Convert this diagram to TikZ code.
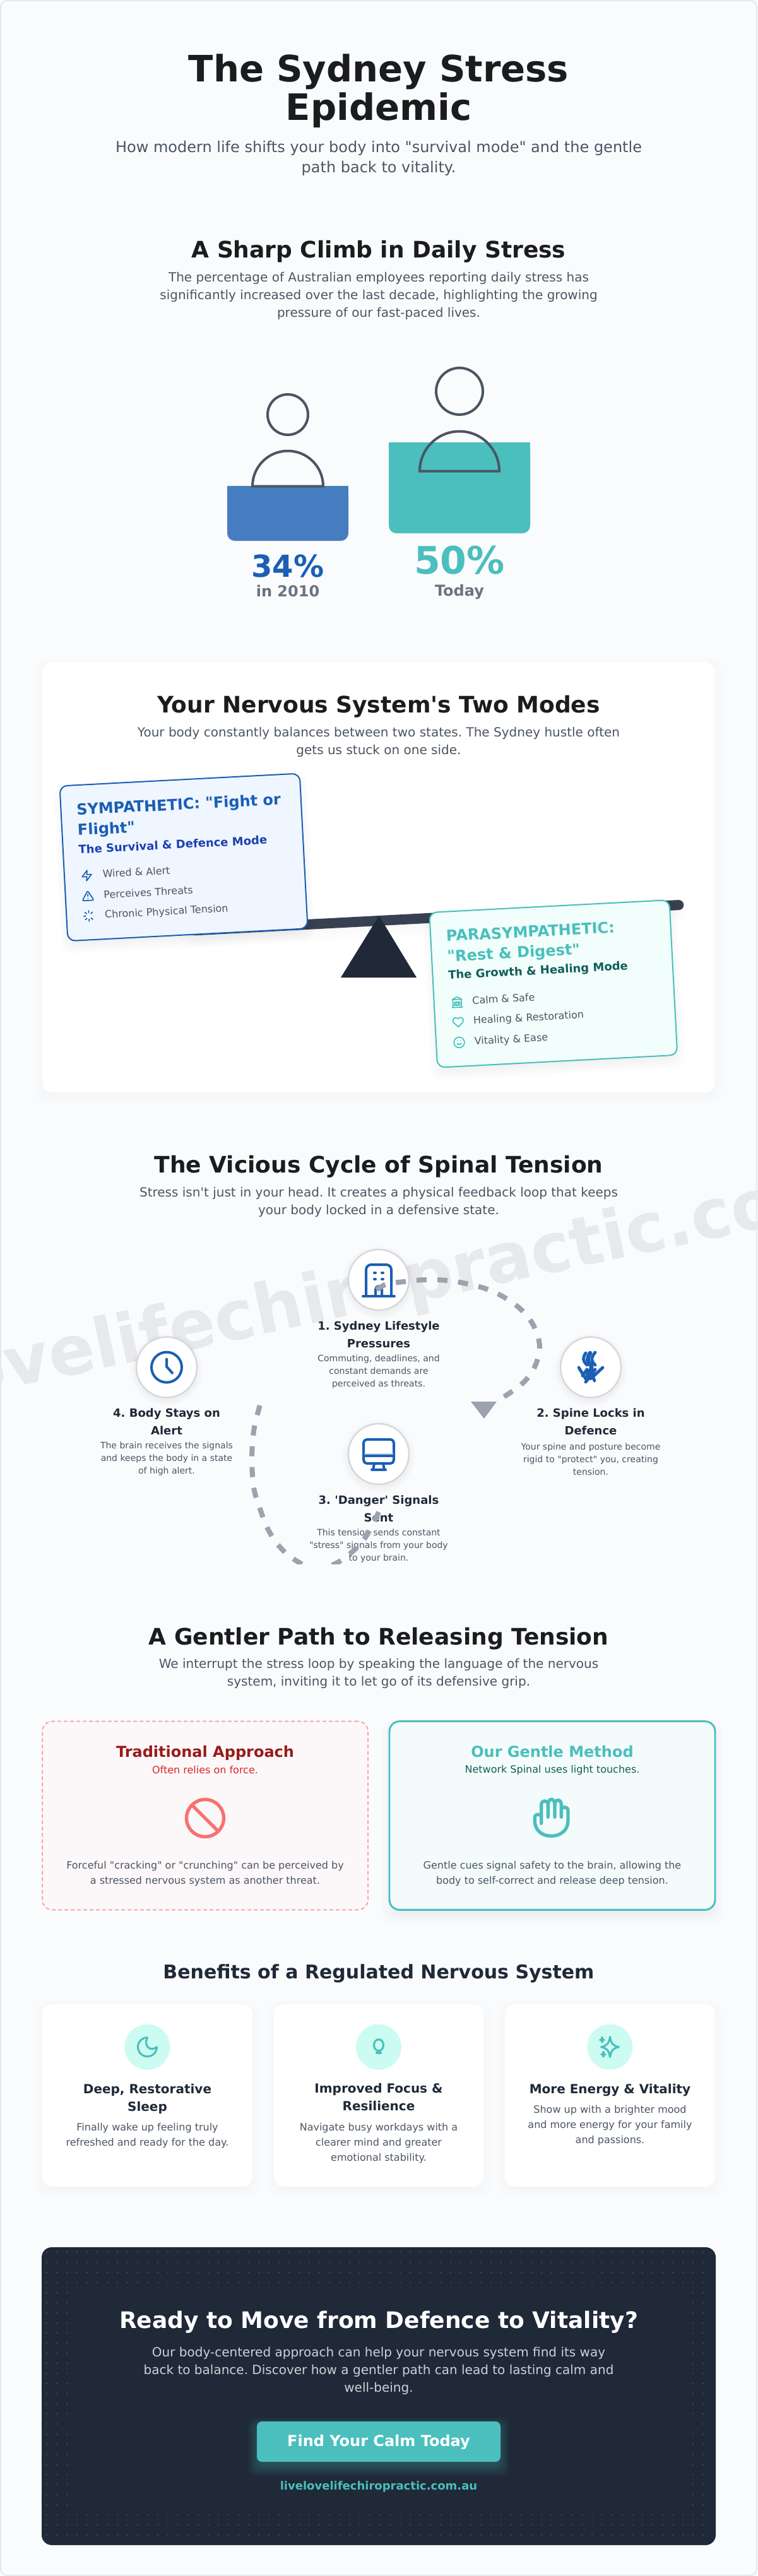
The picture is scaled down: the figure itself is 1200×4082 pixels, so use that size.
\documentclass[tikz,border=0pt]{standalone}
\usepackage{fontspec}
\newfontfamily\pagefamily{DejaVu Sans}
\newcommand{\setsize}[2]{\pagefamily\frenchspacing\fontsize{#1}{#2}\selectfont}
\usetikzlibrary{calc}
\definecolor{pagecolor}{HTML}{FAFBFD}
\definecolor{edgecolor}{HTML}{E5E7EB}
\definecolor{inkcolor}{HTML}{1A1C1E}
\definecolor{slatecolor}{HTML}{1F2937}
\definecolor{beamcolor}{HTML}{374151}
\definecolor{bodycolor}{HTML}{4B5563}
\definecolor{mutedcolor}{HTML}{6B7280}
\definecolor{bluecolor}{HTML}{1A5FB4}
\definecolor{barcolor}{HTML}{467DC0}
\definecolor{tealcolor}{HTML}{4ABFBD}
\definecolor{deepblue}{HTML}{1E40AF}
\definecolor{deepteal}{HTML}{115E59}
\definecolor{loopcolor}{HTML}{9CA3AF}
\definecolor{mintcolor}{HTML}{CCFBF1}
\definecolor{paleblue}{HTML}{EFF6FF}
\definecolor{palemint}{HTML}{F3FCFB}
\definecolor{palered}{HTML}{FCF8F9}
\definecolor{pinkcolor}{HTML}{FCA5A5}
\definecolor{redcolor}{HTML}{F87171}
\definecolor{darkred}{HTML}{991B1B}
\definecolor{midred}{HTML}{DC2626}
\tikzstyle{heading} = [
    align=center,
    inner sep=0pt,
    text=inkcolor,
    font=\setsize{27}{33}\bfseries
]
\tikzstyle{bodytext} = [
    align=center,
    inner sep=0pt,
    text=bodycolor,
    font=\setsize{15}{21}
]
\tikzstyle{smalltext} = [
    align=center,
    inner sep=0pt,
    text=bodycolor,
    font=\setsize{12}{18}
]
\tikzstyle{figure} = [
    draw=bodycolor,
    line width=3pt
]
\tikzstyle{percent} = [
    align=center,
    inner sep=0pt,
    font=\setsize{36}{40}\bfseries
]
\tikzstyle{yearlabel} = [
    inner sep=0pt,
    text=mutedcolor,
    font=\setsize{18}{22}\bfseries
]
\tikzstyle{modecard} = [
    rectangle,
    rounded corners=9pt,
    minimum width=285.5pt,
    minimum height=184.5pt,
    line width=1.5pt,
    inner sep=0pt
]
\tikzstyle{modetitle} = [
    anchor=north west,
    align=left,
    inner sep=0pt,
    font=\setsize{18}{24}\bfseries
]
\tikzstyle{modesub} = [
    anchor=west,
    inner sep=0pt,
    font=\setsize{13.5}{16}\bfseries
]
\tikzstyle{modeitem} = [
    anchor=west,
    inner sep=0pt,
    text=bodycolor,
    font=\setsize{12}{14}
]
\tikzstyle{listicon} = [
    x=.625pt,
    y=-.625pt,
    shift={(-12,-12)},
    line width=1.25pt,
    line cap=round,
    line join=round
]
\tikzstyle{stepcircle} = [
    circle,
    minimum size=72pt,
    fill=white,
    draw=edgecolor!93!black,
    line width=1.8pt,
    inner sep=0pt
]
\tikzstyle{steptitle} = [
    align=center,
    inner sep=0pt,
    text=slatecolor,
    font=\setsize{13.5}{21}\bfseries
]
\tikzstyle{stepdesc} = [
    align=center,
    inner sep=0pt,
    text=bodycolor,
    font=\setsize{10.5}{15}
]
\tikzstyle{stepicon} = [
    draw=bluecolor,
    line width=3pt,
    line cap=round,
    line join=round
]
\tikzstyle{loopdash} = [
    draw=loopcolor,
    line width=6pt,
    dash pattern=on 12pt off 12.75pt
]
\tikzstyle{methodcard} = [
    rectangle,
    rounded corners=12pt,
    minimum width=387pt,
    minimum height=224pt,
    inner sep=0pt
]
\tikzstyle{methodtitle} = [
    anchor=base,
    inner sep=0pt,
    font=\setsize{18}{22}\bfseries
]
\tikzstyle{methodsub} = [
    inner sep=0pt,
    font=\setsize{12}{16}
]
\tikzstyle{benefitcard} = [
    rectangle,
    rounded corners=12pt,
    minimum width=249.75pt,
    minimum height=216.75pt,
    fill=white,
    inner sep=0pt
]
\tikzstyle{benefitbubble} = [
    circle,
    minimum size=54pt,
    fill=mintcolor,
    inner sep=0pt
]
\tikzstyle{benefittitle} = [
    align=center,
    inner sep=0pt,
    text=slatecolor,
    font=\setsize{15}{21}\bfseries
]
\tikzstyle{benefiticon} = [
    draw=tealcolor,
    line width=2.3pt,
    line cap=round,
    line join=round
]
% soft shadow as a stack of faint rectangles
\newcommand{\softshadow}[6]{%
  \foreach \g in {-6,-3,...,12}{
    \fill[black,opacity=#6,rounded corners=12pt]
      ({#1-\g},{#2-\g+#5}) rectangle ({#3+\g},{#4+\g+#5});
  }%
}
\begin{document}
\begin{tikzpicture}[x=.75pt,y=-.75pt]
\useasboundingbox (0,0) rectangle (1200,4082);

% Page
\fill[pagecolor] (0,0) rectangle (1200,4082);
\draw[edgecolor,line width=1.5pt,rounded corners=8pt] (1,1) rectangle (1199,4081);

% Title
\node[heading, font=\setsize{43.2}{45.5}\bfseries] (title) at (600,144) {The Sydney Stress\\Epidemic};
\node[bodytext, font=\setsize{18}{24}] (subtitle) at (600,251) {How modern life shifts your body into "survival mode" and the gentle\\path back to vitality.};

% Section 1: Sharp climb
\node[heading] (climbhead) at (600,399) {A Sharp Climb in Daily Stress};
\node[bodytext] (climbtext) at (600,469) {The percentage of Australian employees reporting daily stress has\\significantly increased over the last decade, highlighting the growing\\pressure of our fast-paced lives.};

% Bar 2010
\fill[barcolor,rounded corners=9pt] (360,770) rectangle (552,857);
\fill[barcolor] (360,770) rectangle (552,800);
\draw[figure] (456,657) circle (32);
\draw[figure] (400,770.5) arc[start angle=180,end angle=360,radius=56] -- cycle;
\node[percent, text=bluecolor] (pctold) at (456,897) {34\%};
\node[yearlabel] (yearold) at (456,937) {in 2010};

% Bar today
\fill[tealcolor,rounded corners=9pt] (616,701) rectangle (840,845);
\fill[tealcolor] (616,701) rectangle (840,740);
\draw[figure] (728,620) circle (37);
\draw[figure] (665,746.5) arc[start angle=180,end angle=360,radius=63] -- cycle;
\node[percent, text=tealcolor, font=\setsize{45}{50}\bfseries] (pctnow) at (728,888) {50\%};
\node[yearlabel] (yearnow) at (728,938) {Today};

% Section 2: Two modes
\softshadow{67}{1049}{1133}{1731}{6}{.005}
\node[rectangle, rounded corners=12pt, fill=white, minimum width=799.5pt, minimum height=511.5pt, inner sep=0pt] (modespanel) at (600,1390) {};
\node[heading] (modeshead) at (600,1120) {Your Nervous System's Two Modes};
\node[bodytext] (modestext) at (600,1176) {Your body constantly balances between two states. The Sydney hustle often\\gets us stuck on one side.};

% Beam
\begin{scope}[shift={(600,1459)},rotate=3]
\softshadow{-300}{-8}{476}{8}{8}{.005}
\fill[beamcolor,rounded corners=6pt] (-300,-8) rectangle (484,8);
\end{scope}

% Sympathetic card
\begin{scope}[shift={(95,1244.5)},rotate=3,transform shape]
\softshadow{0}{0}{380}{246}{10}{.008}
\node[modecard, fill=paleblue, draw=bluecolor, anchor=north west] (sympcard) at (-1.5,0) {};
\node[modetitle, text=bluecolor] (symptitle) at (24,30) {SYMPATHETIC: "Fight or\\Flight"};
\node[modesub, text=deepblue] (sympsub) at (24,103) {The Survival \& Defence Mode};
\node[modeitem] (sympa) at (60,143.5) {Wired \& Alert};
\node[modeitem] (sympb) at (60,176.5) {Perceives Threats};
\node[modeitem] (sympc) at (60,209.5) {Chronic Physical Tension};
\begin{scope}[shift={(35,145)},listicon,bluecolor]
\draw (13,2) -- (3,14) -- (12,14) -- (11,22) -- (21,10) -- (12,10) -- cycle;
\end{scope}
\begin{scope}[shift={(35,177)},listicon,bluecolor]
\draw[rounded corners=1.5pt] (12,2.5) -- (23,21) -- (1,21) -- cycle;
\draw (12,9) -- (12,13) (12,17) -- (12.01,17);
\end{scope}
\begin{scope}[shift={(35,209)},listicon,bluecolor]
\draw (12,2) -- (12,6) (12,18) -- (12,22) (4.93,4.93) -- (7.76,7.76) (16.24,16.24) -- (19.07,19.07);
\draw (2,12) -- (6,12) (4.93,19.07) -- (7.76,16.24) (16.24,7.76) -- (19.07,4.93);
\end{scope}
\end{scope}

% Fulcrum
\fill[slatecolor] (600.5,1451) -- (660,1549) -- (540,1549) -- cycle;

% Parasympathetic card
\begin{scope}[shift={(680.7,1445)},rotate=3,transform shape]
\softshadow{0}{0}{380}{246}{10}{.008}
\node[modecard, fill=mintcolor!27, draw=tealcolor, anchor=north west] (paracard) at (-1.5,0) {};
\node[modetitle, text=tealcolor] (paratitle) at (24,30) {PARASYMPATHETIC:\\"Rest \& Digest"};
\node[modesub, text=deepteal] (parasub) at (24,103) {The Growth \& Healing Mode};
\node[modeitem] (paraa) at (60,143.5) {Calm \& Safe};
\node[modeitem] (parab) at (60,176.5) {Healing \& Restoration};
\node[modeitem] (parac) at (60,209.5) {Vitality \& Ease};
\begin{scope}[shift={(36,145)},listicon,tealcolor]
\draw (12,2) -- (21,7) -- (3,7) -- cycle (4,7) -- (4,22) (20,7) -- (20,22) (2,22) -- (22,22);
\draw (7,12) -- (17,12) -- (17,18) -- (7,18) -- cycle (10,12) -- (10,18) (14,12) -- (14,18);
\end{scope}
\begin{scope}[shift={(36,177)},listicon,tealcolor]
\draw (12,21) -- (5,14) .. controls (3.5,12.55) and (2,10.8) .. (2,8.5) .. controls (2,5.46) and (4.46,3) .. (7.5,3) .. controls (9.26,3) and (10.5,3.5) .. (12,5) .. controls (13.5,3.5) and (14.74,3) .. (16.5,3) .. controls (19.54,3) and (22,5.46) .. (22,8.5) .. controls (22,10.79) and (20.49,12.54) .. (19,14) -- cycle;
\end{scope}
\begin{scope}[shift={(36,209)},listicon,tealcolor]
\draw (12,12) circle (10);
\draw (8,14) .. controls (8,14) and (9.5,16) .. (12,16) .. controls (14.5,16) and (16,14) .. (16,14);
\draw (9,9) -- (9.01,9) (15,9) -- (15.01,9);
\end{scope}
\end{scope}

% Section 3: Vicious cycle
\begin{scope}
\clip (0,1800) rectangle (1200,2500);
\node[rotate=12, anchor=base, inner sep=0pt, text=edgecolor!90!pagecolor, font=\setsize{81.5}{90}\bfseries] (watermark) at (614,2072.5) {livelovelifechiropractic.com.au};
\end{scope}
\node[heading] (cyclehead) at (600,1849) {The Vicious Cycle of Spinal Tension};
\node[bodytext] (cycletext) at (600,1905) {Stress isn't just in your head. It creates a physical feedback loop that keeps\\your body locked in a defensive state.};

% Step circles
\foreach \cx/\cy in {600/2028,936/2166.6,600/2304,264/2166.6}{
  \foreach \g in {0,2,...,10}
    \fill[black,opacity=.008] (\cx,\cy+4) circle ({48+\g});
}
\node[stepcircle] (stepone) at (600,2028) {};
\node[stepcircle] (steptwo) at (936,2166.6) {};
\node[stepcircle] (stepthree) at (600,2304) {};
\node[stepcircle] (stepfour) at (264,2166.6) {};

% Step texts
\node[steptitle] (onetitle) at (600,2114.5) {1. Sydney Lifestyle\\Pressures};
\node[stepdesc] (onedesc) at (600,2174) {Commuting, deadlines, and\\constant demands are\\perceived as threats.};
\node[steptitle] (twotitle) at (936,2252.5) {2. Spine Locks in\\Defence};
\node[stepdesc] (twodesc) at (936,2312) {Your spine and posture become\\rigid to "protect" you, creating\\tension.};
\node[steptitle] (threetitle) at (600,2390.5) {3. 'Danger' Signals\\Sent};
\node[stepdesc] (threedesc) at (600,2450) {This tension sends constant\\"stress" signals from your body\\to your brain.};
\node[steptitle] (fourtitle) at (264,2252.5) {4. Body Stays on\\Alert};
\node[stepdesc] (fourdesc) at (264,2312) {The brain receives the signals\\and keeps the body in a state\\of high alert.};

% Building
\begin{scope}[shift={(600,2029)},stepicon]
\draw[rounded corners=6pt] (-20,25) -- (-20,-25) -- (20,-25) -- (20,25);
\draw (-25,25) -- (25,25);
\draw (-7,-12) -- (-5,-12) (5,-12) -- (7,-12) (-7,-2) -- (-5,-2) (5,-2) -- (7,-2);
\draw[rounded corners=4pt] (-5,25) -- (-5,9) -- (5,9) -- (5,25);
\end{scope}
% Spine
\begin{scope}[shift={(935,2170)},stepicon,line width=3.6pt]
\draw (-7,-26) .. controls (-12,-18) and (-12,-14) .. (-5,-7);
\draw[line width=5pt] (0,-26) .. controls (-5,-18) and (-5,-12) .. (2,-6) -- (2,4);
\draw (8,-27) .. controls (1,-18) and (1,-14) .. (8,-7);
\draw (-18,-3) -- (-5,18) (20,-3) -- (3,13) (-5,0) -- (-12,10) (0,0) -- (7,18) (8,0) -- (-7,20);
\fill[bluecolor] (0,8) ellipse (7 and 9);
\end{scope}
% Monitor
\begin{scope}[shift={(stepthree.center)},stepicon]
\draw[rounded corners=4pt] (-24,-23) rectangle (24,15);
\draw (-24,3) -- (24,3);
\draw[bluecolor!30,line width=1.5pt] (-22,0) -- (22,0);
\draw (-7,15) -- (-9,25) (7,15) -- (9,25) (-11,25) -- (11,25);
\end{scope}
% Clock
\begin{scope}[shift={(stepfour.center)},stepicon]
\draw (0,0) circle (24);
\draw (0,-13) -- (0,-1) -- (9,9);
\end{scope}

% Section 4: Gentler path
\node[heading] (gentlehead) at (600,2597) {A Gentler Path to Releasing Tension};
\node[bodytext] (gentletext) at (600,2652) {We interrupt the stress loop by speaking the language of the nervous\\system, inviting it to let go of its defensive grip.};

\node[methodcard, fill=palered, draw=pinkcolor, dash pattern=on 4.5pt off 3pt, line width=1.5pt] (tradcard) at (325,2877) {};
\softshadow{617}{2728}{1133}{3026}{10}{.006}
\node[methodcard, fill=palemint, draw=tealcolor, line width=2.2pt] (gentlecard) at (875,2877) {};

\node[methodtitle, text=darkred] (tradtitle) at (325,2784.5) {Traditional Approach};
\node[methodsub, text=midred] (tradsub) at (325,2805) {Often relies on force.};
\node[smalltext] (tradtext) at (325,2969.5) {Forceful "cracking" or "crunching" can be perceived by\\a stressed nervous system as another threat.};
\node[methodtitle, text=tealcolor] (gentletitle) at (875,2784.5) {Our Gentle Method};
\node[methodsub, text=deepteal] (gentlesub) at (875,2805) {Network Spinal uses light touches.};
\node[smalltext] (gentledesc) at (875,2969.5) {Gentle cues signal safety to the brain, allowing the\\body to self-correct and release deep tension.};

% Ban icon
\draw[redcolor,line width=4pt] (325,2881) circle (29.5);
\draw[redcolor,line width=4pt] (304,2860) -- (346,2902);
% Hand icon
\begin{scope}[shift={(830,2840)},x=.25pt,y=-.25pt,draw=tealcolor,line width=4pt,line cap=round,line join=round]
\draw (83,148) -- (83,60) .. controls (83,35) and (115,35) .. (115,60) -- (115,118);
\draw (115,60) .. controls (115,25) and (147,25) .. (147,60) -- (147,118);
\draw (147,60) .. controls (147,30) and (178,30) .. (178,60) -- (178,118);
\draw (178,88) .. controls (178,65) and (210,65) .. (210,88) -- (210,135) .. controls (210,180) and (175,208) .. (130,208) .. controls (85,208) and (52,180) .. (52,135) -- (52,120) .. controls (52,100) and (83,100) .. (83,120);
\end{scope}

% Section 5: Benefits
\node[heading, text=slatecolor, font=\setsize{22.5}{28}\bfseries] (benefithead) at (600,3127) {Benefits of a Regulated Nervous System};
\foreach \cx in {233.5,600,966.5}{
  \softshadow{\cx-166.5}{3176}{\cx+166.5}{3465}{6}{.005}
}
\node[benefitcard] (benefita) at (233.5,3320.5) {};
\node[benefitcard] (benefitb) at (600,3320.5) {};
\node[benefitcard] (benefitc) at (966.5,3320.5) {};
\node[benefitbubble] (bubblea) at (233.5,3243.7) {};
\node[benefitbubble] (bubbleb) at (600,3243.7) {};
\node[benefitbubble] (bubblec) at (966.5,3243.7) {};

\node[benefittitle] (benefitatitle) at (233.5,3326) {Deep, Restorative\\Sleep};
\node[smalltext] (benefitatext) at (233.5,3384.5) {Finally wake up feeling truly\\refreshed and ready for the day.};
\node[benefittitle] (benefitbtitle) at (600,3323.5) {Improved Focus \&\\Resilience};
\node[smalltext] (benefitbtext) at (600,3396.5) {Navigate busy workdays with a\\clearer mind and greater\\emotional stability.};
\node[benefittitle] (benefitctitle) at (966.5,3312) {More Energy \& Vitality};
\node[smalltext] (benefitctext) at (966.5,3368.5) {Show up with a brighter mood\\and more energy for your family\\and passions.};

% Moon
\begin{scope}[shift={(bubblea.center)},benefiticon,x=1.25pt,y=-1.25pt,shift={(-12,-12)}]
\draw (12,3) .. controls (8,11) and (15,17) .. (21,12) .. controls (21,16.97) and (16.97,21) .. (12,21) .. controls (7.03,21) and (3,16.97) .. (3,12) .. controls (3,7.03) and (7.03,3) .. (12,3) -- cycle;
\end{scope}
% Bulb
\begin{scope}[shift={(bubbleb.center)},benefiticon]
\draw (0,-3) ellipse (7.5 and 9);
\draw[line width=3pt] (-3,9) -- (3,9);
\end{scope}
% Sparkles
\begin{scope}[shift={(bubblec.center)},benefiticon]
\draw (0,-16) .. controls (2,-5) and (5,-2) .. (14,0) .. controls (5,2) and (2,5) .. (0,16) .. controls (-2,5) and (-5,2) .. (-14,0) .. controls (-5,-2) and (-2,-5) .. (0,-16) -- cycle;
\draw (-12.5,-15) -- (-12.5,-8) (-16,-11.5) -- (-9,-11.5) (-10.5,8) -- (-10.5,15) (-14,11.5) -- (-7,11.5);
\end{scope}

% Section 6: Call to action
\node[rectangle, rounded corners=12pt, fill=slatecolor, minimum width=801pt, minimum height=354pt, inner sep=0pt] (ctapanel) at (600,3797) {};
\foreach \i in {0,...,65}{
  \foreach \j in {0,...,28}{
    \fill[bodycolor!75!slatecolor] ({74+16*\i},{3569+16*\j}) circle (1.3);
  }
}
\fill[slatecolor] (114,3625) rectangle (1086,3977);
\node[heading, text=white] (ctahead) at (600,3680) {Ready to Move from Defence to Vitality?};
\node[bodytext, text=edgecolor!85!bodycolor] (ctatext) at (600,3756.5) {Our body-centered approach can help your nervous system find its way\\back to balance. Discover how a gentler path can lead to lasting calm and\\well-being.};
\foreach \g in {-2,0,...,14}{
  \fill[tealcolor,opacity=.035,rounded corners=8pt] ({407-\g},{3837-\g+8}) rectangle ({793+\g},{3901+\g+8});
}
\node[rectangle, rounded corners=6pt, fill=tealcolor, text=white, minimum width=289.5pt, minimum height=48pt, inner sep=0pt, text height=14.6pt, text depth=3pt, font=\setsize{18}{22}\bfseries] (ctabutton) at (600,3869) {Find Your Calm Today};
\node[inner sep=0pt, text=tealcolor, font=\setsize{13.5}{16}\bfseries] (ctalink) at (600,3940.5) {livelovelifechiropractic.com.au};

% Loop arcs
\coordinate (arconestart) at ($(stepone.center)+(-3,16)$);
\coordinate (arconeend) at (788,2220);
\coordinate (arcarrow) at (767,2248);
\draw[loopdash] plot[smooth,tension=.6] coordinates {(arconestart) (612,2035) (640,2031) (673.5,2028) (708,2029) (738.5,2034) (771,2042.6) (801,2057) (828,2077.5) (847,2103.7) (855,2136) (845.6,2169) (825,2194.6) (arconeend)};
\fill[loopcolor] (746,2221) -- (787,2221) -- (arcarrow) -- cycle;
\begin{scope}
\clip (300,2200) rectangle (900,2478);
\coordinate (arctwostart) at ($(stepthree.center)+(0,92)$);
\coordinate (arctwoend) at (412,2226);
\draw[loopdash] plot[smooth,tension=.6] coordinates {(arctwostart) (581.6,2432) (562.5,2455) (533,2477) (500,2486) (469,2473) (444.6,2452.6) (425.5,2425) (413,2394) (403,2362) (399.5,2328.7) (399.5,2296.5) (403,2262) (arctwoend)};
\end{scope}

\end{tikzpicture}
\end{document}
